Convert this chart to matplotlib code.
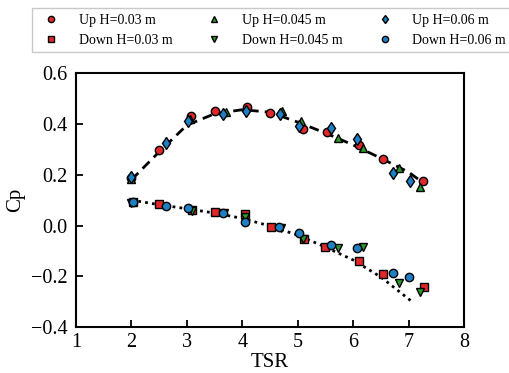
import matplotlib
matplotlib.use("Agg")
import matplotlib.pyplot as plt

plt.rcParams['font.family'] = ['Liberation Serif', 'DejaVu Serif']
plt.rcParams['mathtext.fontset'] = 'stix'

# Upstream
up003_x = [2.0, 2.5, 3.08, 3.5, 4.08, 4.5, 5.1, 5.53, 6.1, 6.54, 7.26]
up003_y = [0.187, 0.297, 0.43, 0.45, 0.465, 0.443, 0.38, 0.37, 0.316, 0.26, 0.175]
up0045_x = [2.0, 3.06, 3.7, 4.72, 5.06, 5.73, 6.18, 6.82, 7.2]
up0045_y = [0.185, 0.42, 0.445, 0.45, 0.41, 0.345, 0.305, 0.226, 0.151]
up006_x = [2.0, 2.62, 3.02, 3.65, 4.07, 4.68, 5.03, 5.6, 6.07, 6.72, 7.03]
up006_y = [0.19, 0.324, 0.41, 0.44, 0.45, 0.44, 0.39, 0.385, 0.34, 0.206, 0.175]

# Downstream
dn003_x = [2.03, 2.5, 3.09, 3.5, 4.05, 4.52, 5.12, 5.5, 6.1, 6.54, 7.28]
dn003_y = [0.092, 0.084, 0.06, 0.053, 0.045, -0.006, -0.053, -0.085, -0.14, -0.19, -0.243]
dn0045_x = [2.0, 3.1, 3.67, 4.05, 4.7, 5.1, 5.73, 6.18, 6.82, 7.2]
dn0045_y = [0.09, 0.057, 0.049, 0.033, -0.01, -0.053, -0.089, -0.085, -0.227, -0.262]
dn006_x = [2.03, 2.62, 3.02, 3.65, 4.05, 4.67, 5.02, 5.6, 6.07, 6.72, 7.0]
dn006_y = [0.092, 0.076, 0.068, 0.05, 0.013, -0.006, -0.03, -0.077, -0.09, -0.187, -0.203]

# Trend curves
fit_up_x = [2.0, 2.5, 3.0, 3.5, 4.0, 4.5, 5.0, 5.5, 6.0, 6.5, 7.0, 7.25]
fit_up_y = [0.18, 0.29, 0.395, 0.44, 0.456, 0.446, 0.407, 0.364, 0.317, 0.265, 0.21, 0.17]
fit_dn_x = [2.0, 2.5, 3.0, 3.5, 4.0, 4.5, 5.0, 5.5, 6.0, 6.5, 7.05]
fit_dn_y = [0.1, 0.082, 0.066, 0.049, 0.028, -0.002, -0.038, -0.085, -0.136, -0.203, -0.298]

red = '#e0282a'
green = '#2a9a2a'
blue = '#1f7fc4'

fig = plt.figure(figsize=(5.1, 3.73), dpi=100)
ax = fig.add_axes([0.149, 0.123, 0.761, 0.681])

ax.plot(fit_up_x, fit_up_y, color='black', ls=(0, (3.5, 2.2)), lw=2, zorder=1)
ax.plot(fit_dn_x, fit_dn_y, color='black', ls=(0, (1, 1.5)), lw=2, zorder=1)

ms = 6
kw = dict(ls='none', mec='black', mew=1, ms=ms, zorder=3)
h1, = ax.plot(up003_x, up003_y, marker='o', mfc=red, label='Up H=0.03 m', **kw)
h2, = ax.plot(dn003_x, dn003_y, marker='s', mfc=red, label='Down H=0.03 m', **kw)
h3, = ax.plot(up0045_x, up0045_y, marker='^', mfc=green, label='Up H=0.045 m', **kw)
h4, = ax.plot(dn0045_x, dn0045_y, marker='v', mfc=green, label='Down H=0.045 m', **kw)
h5, = ax.plot(up006_x, up006_y, marker='d', mfc=blue, label='Up H=0.06 m', **kw)
h6, = ax.plot(dn006_x, dn006_y, marker='o', mfc=blue, label='Down H=0.06 m', **kw)

ax.set_xlim(1, 8)
ax.set_ylim(-0.4, 0.6)
ax.set_xticks([1, 2, 3, 4, 5, 6, 7, 8])
ax.set_yticks([-0.4, -0.2, 0.0, 0.2, 0.4, 0.6])
ax.set_yticklabels(['\u22120.4', '\u22120.2', '0.0', '0.2', '0.4', '0.6'])
ax.tick_params(direction='in', labelsize=14.5, length=5, width=1.3, top=False, right=False)
ax.tick_params(axis='y', pad=6)
ax.tick_params(axis='x', pad=4)
for s in ax.spines.values():
    s.set_linewidth(1.5)
ax.set_xlabel('TSR', fontsize=15, labelpad=1)
ax.set_ylabel('Cp', fontsize=15, labelpad=4)

fig.legend(handles=[h1, h2, h3, h4, h5, h6], ncol=3, loc='upper left',
           bbox_to_anchor=(0.049, 0.997), fontsize=10, frameon=True,
           fancybox=False, edgecolor='#bbbbbb', columnspacing=2.0,
           handletextpad=1.0, borderpad=0.4, labelspacing=0.5, markerscale=0.75,
           handlelength=2.0)

fig.savefig('out.png', dpi=100)
